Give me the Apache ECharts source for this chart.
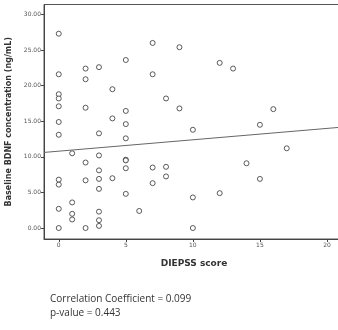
<!DOCTYPE html>
<html>
<head>
<meta charset="utf-8">
<script src="https://cdn.jsdelivr.net/npm/echarts@6/dist/echarts.min.js"></script>
<style>
  html, body { margin: 0; padding: 0; background: #fff; }
  #chart { width: 338px; height: 330px; }
</style>
</head>
<body>
<div id="chart"></div>
<script>
// DIEPSS score (x) vs baseline BDNF (y)
var scoreValues = [
  0, 0, 0, 0, 0, 0, 0, 0, 0, 0, 0,
  1, 1, 1, 1,
  2, 2, 2, 2, 2, 2,
  3, 3, 3, 3, 3, 3, 3, 3, 3,
  4, 4, 4,
  5, 5, 5, 5, 5, 5, 5, 5,
  6,
  7, 7, 7, 7,
  8, 8, 8,
  9, 9,
  10, 10, 10,
  12, 12,
  13,
  14,
  15, 15,
  16,
  17
]
var bdnfValues = [
  27.3, 21.6, 18.8, 18.2, 17.1, 14.9, 13.1, 6.8, 6.1, 2.7, 0.0,
  10.5, 3.6, 2.0, 1.2,
  22.4, 20.9, 16.9, 9.2, 6.7, 0.0,
  22.6, 13.3, 10.2, 8.1, 6.9, 5.5, 2.3, 1.1, 0.3,
  19.5, 15.4, 7.0,
  23.6, 16.45, 14.6, 12.6, 9.6, 9.5, 8.4, 4.8,
  2.4,
  26.0, 21.6, 8.5, 6.3,
  18.2, 8.6, 7.25,
  25.4, 16.8,
  13.8, 4.3, 0.0,
  23.2, 4.9,
  22.4,
  9.1,
  14.5, 6.9,
  16.7,
  11.2
]
// fit line end points (axis edge to picture edge)
var fitLine = [[-1.1, 10.62], [20.85, 14.13]]
var xTicks = [0, 5, 10, 15, 20]
var yTicks = [0, 5, 10, 15, 20, 25, 30]
var statLines = ['Correlation Coefficient = 0.099', 'p-value = 0.443']

var points = scoreValues.map(function (s, i) {
  return [s, bdnfValues[i]]
})

var chart = echarts.init(document.getElementById('chart'))
chart.setOption({
  animation: false,
  grid: {
    left: 44,
    top: 4.5,
    width: 300,
    height: 234.5,
    outerBoundsMode: 'none',
    show: true,
    borderColor: '#555',
    borderWidth: 1
  },
  xAxis: {
    type: 'value',
    min: -1.1,
    max: 21.27,
    name: 'DIEPSS score',
    nameLocation: 'middle',
    nameGap: 20,
    nameTextStyle: {
      fontFamily: 'DejaVu Sans',
      fontWeight: 'bold',
      fontSize: 9,
      color: '#333'
    },
    splitLine: { show: false },
    axisLine: { onZero: false, lineStyle: { color: '#444', width: 1 } },
    axisTick: { customValues: xTicks, length: 3, lineStyle: { color: '#444' } },
    axisLabel: {
      customValues: xTicks,
      fontSize: 6,
      margin: 3,
      color: '#555',
      fontFamily: 'DejaVu Sans'
    }
  },
  yAxis: {
    type: 'value',
    min: -1.54,
    max: 31.4,
    name: 'Baseline BDNF concentration (ng/mL)',
    nameLocation: 'middle',
    nameGap: 30,
    nameTextStyle: {
      fontFamily: 'DejaVu Sans',
      fontWeight: 'bold',
      fontSize: 8,
      color: '#333'
    },
    splitLine: { show: false },
    axisLine: { show: true, onZero: false, lineStyle: { color: '#444', width: 1 } },
    axisTick: { show: true, customValues: yTicks, length: 3, lineStyle: { color: '#444' } },
    axisLabel: {
      customValues: yTicks,
      fontSize: 6,
      margin: 3,
      color: '#555',
      fontFamily: 'DejaVu Sans',
      formatter: function (v) { return v.toFixed(2) }
    }
  },
  series: [
    {
      type: 'scatter',
      data: points,
      symbol: 'circle',
      symbolSize: 5,
      itemStyle: { color: '#fff', borderColor: '#333', borderWidth: 1 }
    },
    {
      type: 'line',
      data: fitLine,
      symbol: 'none',
      lineStyle: { color: '#666', width: 1 }
    }
  ],
  graphic: [
    {
      type: 'text',
      left: 50,
      top: 292,
      style: {
        text: statLines.join('\n'),
        fontFamily: 'Open Sans',
        fontSize: 10,
        lineHeight: 14,
        fill: '#333'
      }
    }
  ]
})
</script>
</body>
</html>
